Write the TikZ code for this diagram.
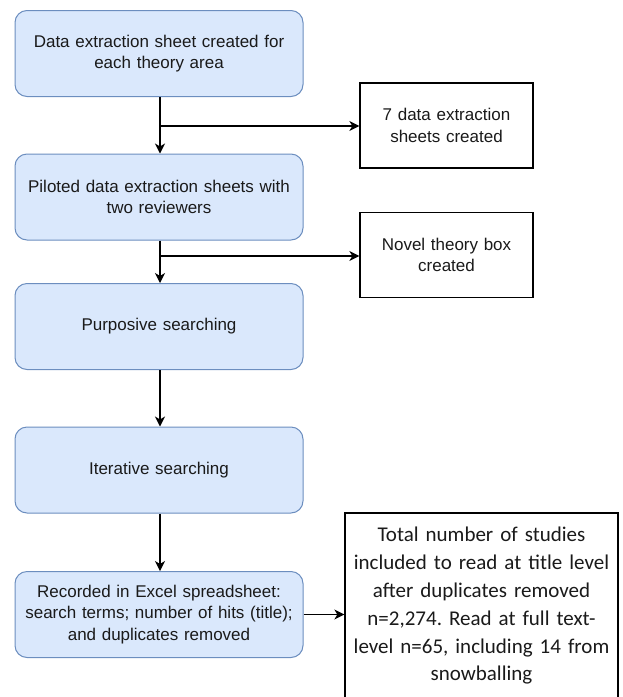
\documentclass[tikz,border=0pt]{standalone}
\usepackage{fontspec}
\setmainfont{Liberation Sans}
\newfontfamily\calibrifont{Carlito}
\usetikzlibrary{arrows.meta}
\frenchspacing
\definecolor{boxfill}{HTML}{DAE8FC}
\definecolor{boxline}{HTML}{6C8EBF}
\definecolor{txt}{HTML}{1A1A1A}
\tikzset{
  stepbox/.style={draw=boxline, line width=1pt, fill=boxfill, rounded corners=12pt,
    minimum width=288pt, minimum height=86pt, align=center, inner sep=4pt,
    font=\fontsize{17}{21.5}\selectfont, text width=270pt, text=txt},
  sidebox/.style={draw=black, line width=1.3pt, fill=white, minimum width=173pt,
    minimum height=85pt, align=center, inner sep=4pt,
    font=\fontsize{17}{21.5}\selectfont, text width=160pt, text=txt},
  bigbox/.style={draw=black, line width=1.3pt, fill=white, minimum width=273pt,
    minimum height=186pt, align=center, inner sep=4pt,
    font=\calibrifont\fontsize{21}{27.8}\selectfont, text width=262pt, text=txt},
  arr/.style={draw=black, line width=1.3pt, -{Stealth[length=10pt,width=10pt,inset=3pt]}}
}
\begin{document}
\begin{tikzpicture}[x=1pt,y=-1pt]
\useasboundingbox (0,0) rectangle (622,697);
\clip (0,0) rectangle (622,697);
\node[stepbox] (b1) at (159,53.5) {Data extraction sheet created for\\each theory area};
\node[stepbox] (b2) at (159,197) {Piloted data extraction sheets with\\two reviewers};
\node[stepbox] (b3) at (159,326.5) {Purposive searching};
\node[stepbox] (b4) at (159,470) {Iterative searching};
\node[stepbox] (b5) at (159,614.5) {Recorded in Excel spreadsheet:\\search terms; number of hits (title);\\and duplicates removed};
\node[sidebox] (s1) at (446.5,125.5) {7 data extraction\\sheets created};
\node[sidebox] (s2) at (446.5,255) {Novel theory box\\created};
\node[bigbox] (s3) at (481.5,606) {Total number of studies\\included to read at title level\\after duplicates removed\\n=2,274. Read at full text-\\level n=65, including 14 from\\snowballing};
\coordinate (j1) at (160,126);
\coordinate (j2) at (160,256);
\draw[arr] (b1.south -| j1) -- (b2.north -| j1);
\draw[arr] (j1) -- (j1 -| s1.west);
\draw[arr] (b2.south -| j2) -- (b3.north -| j2);
\draw[arr] (j2) -- (j2 -| s2.west);
\draw[arr] (b3.south -| j2) -- (b4.north -| j2);
\draw[arr] (b4.south -| j2) -- (b5.north -| j2);
\draw[arr] (b5.east) -- (b5.east -| s3.west);
\end{tikzpicture}
\end{document}
